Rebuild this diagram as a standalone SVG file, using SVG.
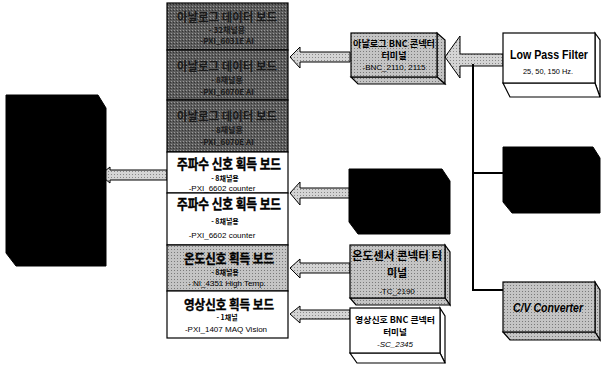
<svg xmlns="http://www.w3.org/2000/svg" width="603" height="376" viewBox="0 0 603 376">
<defs>
<pattern id="dots" width="3" height="3" patternUnits="userSpaceOnUse">
<rect width="3" height="3" fill="#d4d4d4"/><rect width="1" height="1" fill="#888"/>
</pattern>
<pattern id="dark" width="3" height="3" patternUnits="userSpaceOnUse">
<rect width="3" height="3" fill="#5c5c5c"/><rect width="1" height="1" fill="#9a9a9a"/><rect x="2" y="1" width="1" height="1" fill="#333"/>
</pattern>
<pattern id="grey" width="3" height="3" patternUnits="userSpaceOnUse">
<rect width="3" height="3" fill="#c4c4c4"/><rect width="1" height="1" fill="#7a7a7a"/>
</pattern>
</defs>
<style>
.k{font-family:"Noto Sans CJK KR","Liberation Sans",sans-serif;font-weight:bold;text-anchor:middle;fill:#000}
.t{stroke:#000;stroke-width:0.4}
.d{fill:#1a1a1a}
.s{font-family:"Liberation Sans","Noto Sans CJK KR",sans-serif;text-anchor:middle;fill:#000}
.ed{stroke:#000;stroke-width:1.2}
.arr{fill:url(#dots);stroke:#000;stroke-width:1}
.ln{fill:none;stroke:#000;stroke-width:2}
.blk{fill:#000;stroke:#000}
</style>

<g id="connectors">
<polygon class="arr" points="100,175 110,167 110,170 167,170 167,180 110,180 110,183"/>
<polygon class="arr" points="290,57 300,47 300,52 350,52 350,62 300,62 300,68"/>
<polygon class="arr" points="445,57 460,36 460,54 503,54 503,66 460,66 460,78"/>
<polygon class="arr" points="290,193 300,182 300,188 350,188 350,198 300,198 300,205"/>
<polygon class="arr" points="290,268 300,259 300,263 350,263 350,273 300,273 300,278"/>
<polygon class="arr" points="290,314 300,306 300,310 350,310 350,319 300,319 300,323"/>
<polyline class="ln" points="473,64 473,290 503,290"/>
<line class="ln" x1="473" y1="173" x2="503" y2="173"/>
</g>

<g id="main-unit">
<polygon class="blk" points="6,95 98,95 106,108 106,266 16,266 6,253"/>
</g>

<g id="column">
<rect x="167" y="3" width="121" height="47" fill="url(#dark)" class="ed"/>
<text class="k d" x="227" y="22" font-size="12" textLength="100" lengthAdjust="spacingAndGlyphs">아날로그 데이터 보드</text>
<text class="k d" x="227" y="33" font-size="8">- 32채널용</text>
<text class="k d" x="227" y="44" font-size="8">-PXI_6031E AI</text>

<rect x="167" y="50" width="121" height="50" fill="url(#dark)" class="ed"/>
<text class="k d" x="227" y="71" font-size="12" textLength="100" lengthAdjust="spacingAndGlyphs">아날로그 데이터 보드</text>
<text class="k d" x="227" y="83" font-size="8">- 8채널용</text>
<text class="k d" x="227" y="95" font-size="8">-PXI_6070E AI</text>

<rect x="167" y="100" width="121" height="52" fill="url(#dark)" class="ed"/>
<text class="k d" x="227" y="121" font-size="12" textLength="100" lengthAdjust="spacingAndGlyphs">아날로그 데이터 보드</text>
<text class="k d" x="227" y="133" font-size="8">- 8채널용</text>
<text class="k d" x="227" y="145" font-size="8">-PXI_6070E AI</text>

<rect x="167" y="152" width="121" height="41" fill="#fff" class="ed"/>
<text class="k t" x="229" y="169" font-size="14" textLength="104" lengthAdjust="spacingAndGlyphs">주파수 신호 획득 보드</text>
<text class="k" x="225" y="181" font-size="7" font-weight="normal">- 8채널용</text>
<text class="s" x="222" y="191" font-size="8">-PXI_6602 counter</text>

<rect x="167" y="193" width="121" height="52" fill="#fff" class="ed"/>
<text class="k t" x="229" y="209" font-size="14" textLength="104" lengthAdjust="spacingAndGlyphs">주파수 신호 획득 보드</text>
<text class="k" x="225" y="224" font-size="7" font-weight="normal">- 8채널용</text>
<text class="s" x="222" y="238" font-size="8">-PXI_6602 counter</text>

<rect x="167" y="245" width="121" height="46" fill="url(#grey)" class="ed"/>
<text class="k t" x="229" y="263" font-size="13" textLength="90" lengthAdjust="spacingAndGlyphs">온도신호 획득 보드</text>
<text class="k" x="225" y="275" font-size="7" font-weight="normal">- 8채널용</text>
<text class="s" x="227" y="286" font-size="8">- NI_4351 High Temp.</text>

<rect x="167" y="291" width="121" height="47" fill="#fff" class="ed"/>
<text class="k t" x="229" y="309" font-size="13" textLength="90" lengthAdjust="spacingAndGlyphs">영상신호 획득 보드</text>
<text class="k" x="227" y="320" font-size="7" font-weight="normal">- 1채널</text>
<text class="s" x="226" y="332" font-size="8">-PXI_1407  MAQ Vision</text>
</g>

<g id="bnc-terminal">
<polygon points="437,33 445,40 445,84 437,77" fill="url(#grey)" class="ed"/>
<polygon points="351,77 437,77 445,84 358,84" fill="url(#grey)" class="ed"/>
<rect x="351" y="33" width="86" height="44" fill="url(#grey)" class="ed"/>
<text class="k" x="394" y="47" font-size="9" textLength="82" lengthAdjust="spacingAndGlyphs">아날로그 BNC 콘넥터</text>
<text class="k" x="394" y="59" font-size="9">터미널</text>
<text class="s" x="394" y="70" font-size="8">-BNC_2110, 2115</text>
</g>

<g id="low-pass-filter">
<polygon points="595,33 600,40 600,97 595,83" fill="#fff" class="ed"/>
<polygon points="503,83 595,83 600,97 510,97" fill="#fff" class="ed"/>
<rect x="503" y="33" width="92" height="50" fill="#fff" class="ed"/>
<text class="s" x="549" y="59" font-size="13" font-weight="bold" textLength="78" lengthAdjust="spacingAndGlyphs">Low  Pass Filter</text>
<text class="s" x="548" y="74" font-size="8" textLength="50" lengthAdjust="spacingAndGlyphs">25, 50, 150 Hz.</text>
</g>

<g id="sensor-box">
<polygon class="blk" points="349,169 442,169 450,181 450,234 358,234 349,222"/>
</g>

<g id="right-black-box">
<polygon class="blk" points="503,147 593,147 600,158 600,213 512,213 503,202"/>
</g>

<g id="temp-terminal">
<polygon points="445,245 450,252 450,305 445,298" fill="url(#grey)" class="ed"/>
<polygon points="350,298 445,298 450,305 356,305" fill="url(#grey)" class="ed"/>
<rect x="350" y="245" width="95" height="53" fill="url(#grey)" class="ed"/>
<text class="k" x="397" y="260" font-size="11" textLength="90" lengthAdjust="spacingAndGlyphs">온도센서 콘넥터 터</text>
<text class="k" x="397" y="277" font-size="11">미널</text>
<text class="s" x="397" y="294" font-size="8">-TC_2190</text>
</g>

<g id="image-terminal">
<polygon points="440,308 445,316 445,363 440,353" fill="#fff" class="ed"/>
<polygon points="350,353 440,353 445,363 357,363" fill="#fff" class="ed"/>
<rect x="350" y="308" width="90" height="45" fill="#fff" class="ed"/>
<text class="k" x="395" y="323" font-size="8.5" textLength="80" lengthAdjust="spacingAndGlyphs">영상신호 BNC 콘넥터</text>
<text class="k" x="395" y="335" font-size="8.5">터미널</text>
<text class="s" x="395" y="347" font-size="8" font-style="italic">-SC_2345</text>
</g>

<g id="cv-converter">
<polygon points="595,282 600,290 600,340 595,332" fill="url(#grey)" class="ed"/>
<polygon points="503,332 595,332 600,340 510,340" fill="url(#grey)" class="ed"/>
<rect x="503" y="282" width="92" height="50" fill="url(#grey)" class="ed"/>
<text class="s" x="548" y="312" font-size="12" font-weight="bold" font-style="italic" textLength="70" lengthAdjust="spacingAndGlyphs">C/V Converter</text>
</g>
</svg>
